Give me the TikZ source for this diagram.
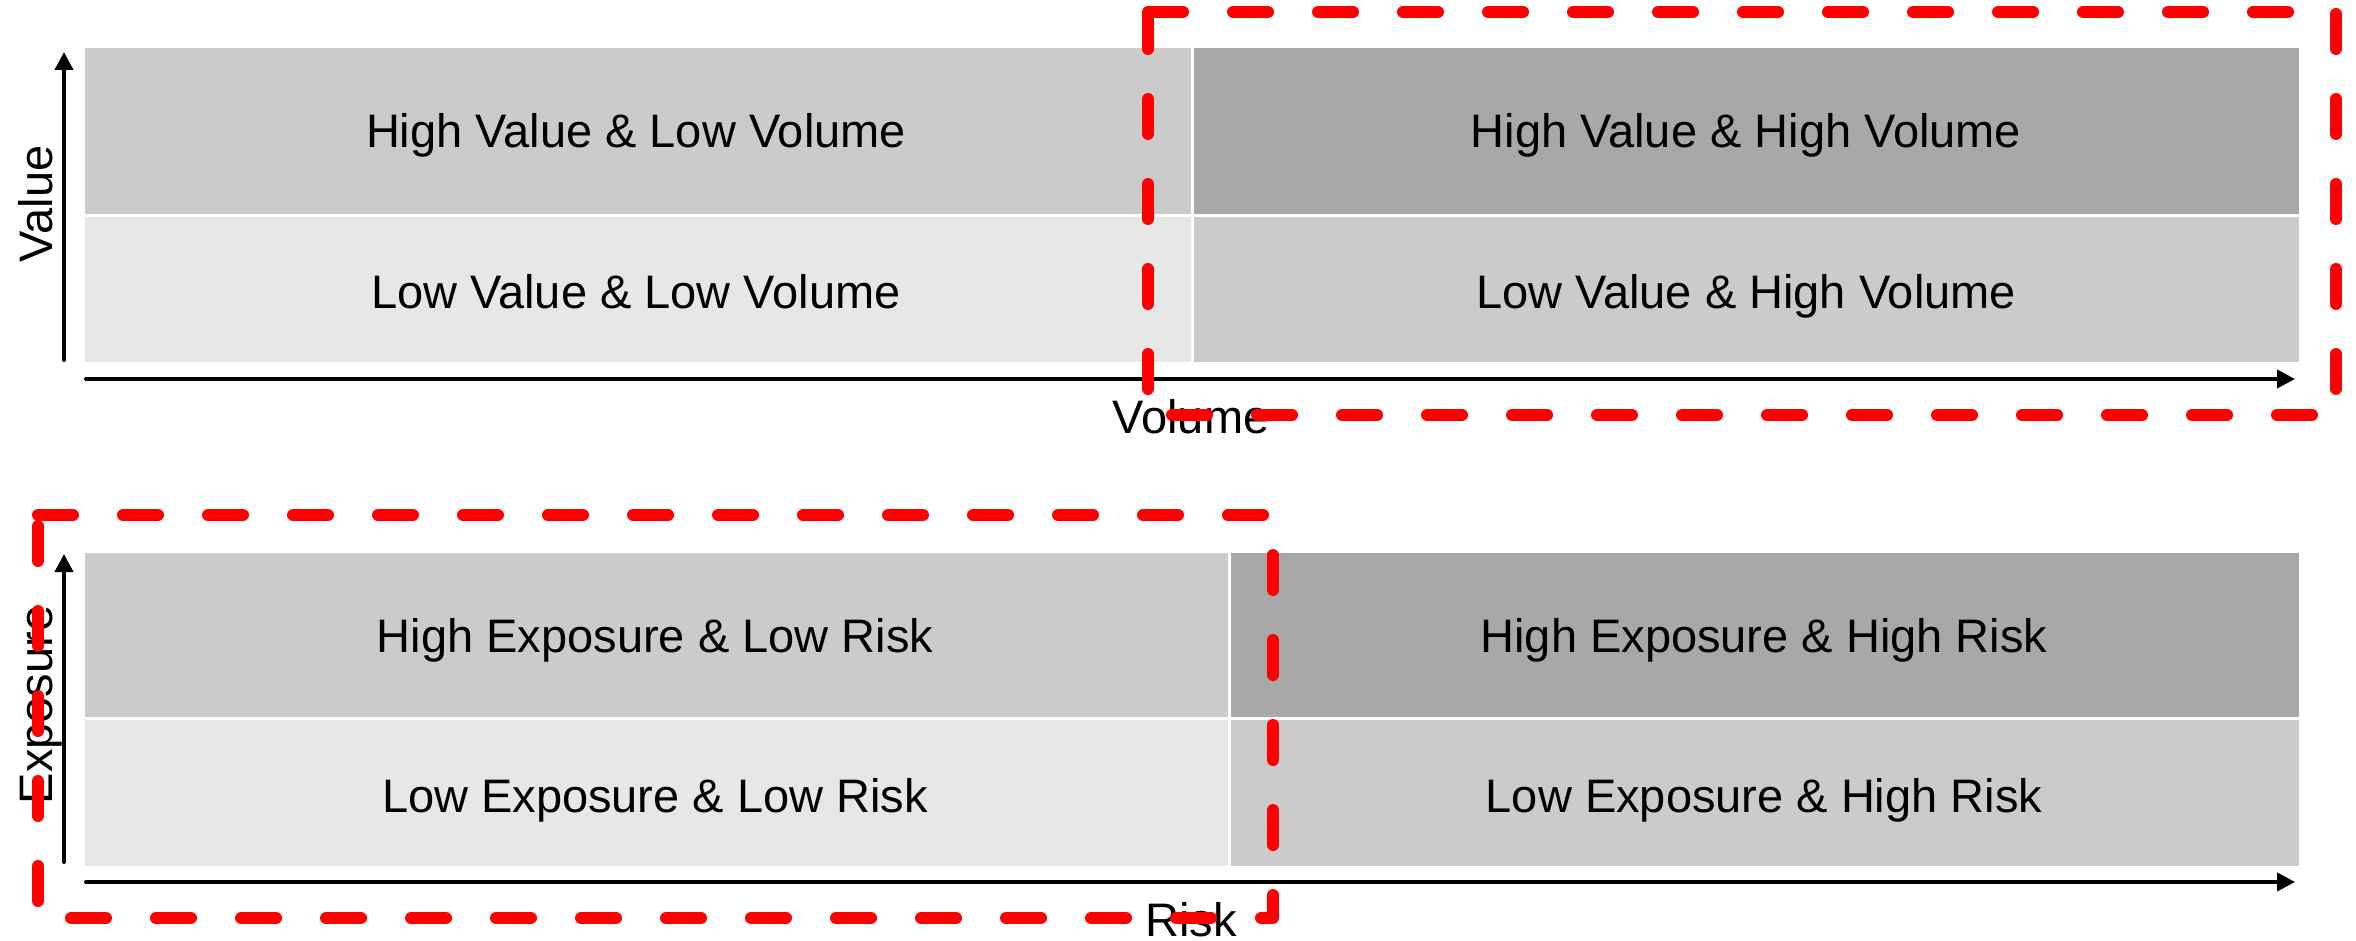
\documentclass[tikz,border=0pt]{standalone}
\usepackage{fontspec}
\setmainfont{Liberation Sans}
\usetikzlibrary{arrows.meta}
\definecolor{cLight}{RGB}{231,231,231}
\definecolor{cMid}{RGB}{203,203,203}
\definecolor{cDark}{RGB}{168,168,168}
\definecolor{zred}{RGB}{255,0,0}
\begin{document}
\begin{tikzpicture}[x=0.5pt,y=-0.5pt,
  cellbox/.style={draw=white, line width=1.5pt},
  celltext/.style={font=\fontsize{23.5}{28}\selectfont, inner sep=0pt, anchor=base},
  axisline/.style={line width=2pt, line cap=round, -{Triangle[length=9pt,width=9pt]}},
  axislabel/.style={font=\fontsize{23.5}{28}\selectfont, inner sep=0pt, anchor=base},
  zone/.style={draw=zred, line width=6pt, line cap=round, line join=round, dash pattern=on 17.5pt off 25pt}]
\useasboundingbox (0,0) rectangle (2356,941);

% ---------- top chart ----------
\filldraw[cellbox, fill=cMid]  (83,47) rectangle (1192.5,215.5);
\filldraw[cellbox, fill=cDark] (1192.5,47) rectangle (2300,215.5);
\filldraw[cellbox, fill=cLight] (83,215.5) rectangle (1192.5,363);
\filldraw[cellbox, fill=cMid]  (1192.5,215.5) rectangle (2300,363);
\node[celltext] (hvlv) at (636,148) {High Value \& Low Volume};
\node[celltext] (hvhv) at (1746,148) {High Value \& High Volume};
\node[celltext] (lvlv) at (636,308) {Low Value \& Low Volume};
\node[celltext] (lvhv) at (1746,308) {Low Value \& High Volume};

\coordinate (vyA) at (64,360);
\coordinate (vyB) at (64,52);
\coordinate (vxA) at (86,379);
\coordinate (vxB) at (2295,379);
\draw[axisline] (vyA) -- (vyB);
\draw[axisline] (vxA) -- (vxB);
\node[axislabel, rotate=90] (valuelab) at (52,204) {Value};
\node[axislabel] (volumelab) at (1191,433) {Volume};

% ---------- bottom chart ----------
\filldraw[cellbox, fill=cMid]  (83,551) rectangle (1229,718);
\filldraw[cellbox, fill=cDark] (1229,551) rectangle (2300,718);
\filldraw[cellbox, fill=cLight] (83,718) rectangle (1229,867);
\filldraw[cellbox, fill=cMid]  (1229,718) rectangle (2300,867);
\node[celltext] (helr) at (655,652) {High Exposure \& Low Risk};
\node[celltext] (hehr) at (1764,652) {High Exposure \& High Risk};
\node[celltext] (lelr) at (655,812) {Low Exposure \& Low Risk};
\node[celltext] (lehr) at (1764,812) {Low Exposure \& High Risk};

\coordinate (ryA) at (64,862);
\coordinate (ryB) at (64,554);
\coordinate (rxA) at (86,882);
\coordinate (rxB) at (2295,882);
\draw[axisline] (ryA) -- (ryB);
\draw[axisline] (rxA) -- (rxB);
\node[axislabel, rotate=90] (exposurelab) at (52,705) {Exposure};
\node[axislabel] (risklab) at (1191,936) {Risk};

% ---------- red dashed zones ----------
\draw[zone] (1148,12) -- (2336,12) -- (2336,415) -- (1148,415) -- cycle;
\draw[zone] (38,515) -- (1273,515) -- (1273,918) -- (38,918) -- cycle;
\end{tikzpicture}
\end{document}
